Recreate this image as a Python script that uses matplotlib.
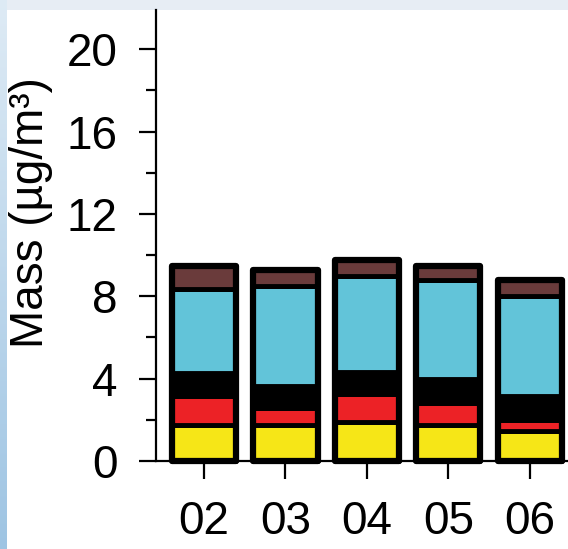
import numpy as np
import matplotlib
matplotlib.use("Agg")
import matplotlib.pyplot as plt
from matplotlib.patches import Rectangle

plt.rcParams['font.family'] = ['Liberation Sans', 'DejaVu Sans']

# stacked mass components per year (ug/m3), bottom to top
years = ['02', '03', '04', '05', '06']
yellow_part = [1.75, 1.75, 1.90, 1.75, 1.48]
red_part = [1.40, 0.82, 1.35, 1.05, 0.51]
black_part = [1.12, 1.07, 1.07, 1.18, 1.17]
cyan_part = [4.10, 4.86, 4.68, 4.82, 4.87]
brown_part = [1.10, 0.77, 0.76, 0.67, 0.76]

layers = [yellow_part, red_part, black_part, cyan_part, brown_part]
colors = ['#f6e617', '#ec2226', '#000000', '#62c4d9', '#6a3b3b']

W, H = 568, 549
fig = plt.figure(figsize=(W / 100, H / 100), dpi=100)
fig.patch.set_facecolor('#e7edf4')

# left blue strip with a vertical gradient
strip = fig.add_axes([0, 0, 7 / W, 1])
grad = np.linspace(0, 1, 256).reshape(-1, 1)
top_c = np.array([0.87, 0.92, 0.96])
bot_c = np.array([0.62, 0.77, 0.89])
img = top_c + (bot_c - top_c) * grad[:, :, None]
strip.imshow(img, aspect='auto', extent=[0, 1, 0, 1], origin='upper')
strip.axis('off')

# white page area
page = fig.add_axes([7 / W, 0, 1 - 7 / W, (H - 10) / H])
page.axis('off')
page.add_patch(Rectangle((0, 0), 1, 1, transform=page.transAxes,
                         facecolor='white', edgecolor='none'))

ax = fig.add_axes([156 / W, (H - 461) / H, 1 - 156 / W, 451 / H])
ax.set_facecolor('none')

x = np.arange(1, len(years) + 1)
width = 0.79
bottom = np.zeros(len(years))
for vals, c in zip(layers, colors):
    ax.bar(x, vals, width, bottom=bottom, color=c, edgecolor='black',
           linewidth=3.5, joinstyle='round', zorder=3, clip_on=False)
    bottom += np.array(vals)

# heavy rounded outline around each full stack
for xi, total in zip(x, bottom):
    ax.add_patch(Rectangle((xi - width / 2, 0), width, total, facecolor='none',
                           edgecolor='black', linewidth=4.5, joinstyle='round',
                           zorder=4, clip_on=False))

ax.set_xlim(0.41, 5.47)
ax.set_ylim(0, 21.9)
ax.set_xticks(x)
ax.set_xticklabels(years)
ax.set_yticks(np.arange(0, 21, 4))
ax.set_yticks(np.arange(2, 21, 4), minor=True)

for s in ['top', 'right']:
    ax.spines[s].set_visible(False)
for s in ['left', 'bottom']:
    ax.spines[s].set_linewidth(1.6)

ax.tick_params(axis='y', which='major', length=12.5, width=1.6, pad=15, labelsize=33)
ax.tick_params(axis='y', which='minor', length=7, width=1.6)
ax.tick_params(axis='x', which='major', length=13, width=1.6, pad=15, labelsize=33)

ax.set_ylabel('Mass (µg/m³)', fontsize=33)
ax.yaxis.set_label_coords(-0.25, 0.55)

fig.savefig('out.png', dpi=100, facecolor=fig.get_facecolor())
